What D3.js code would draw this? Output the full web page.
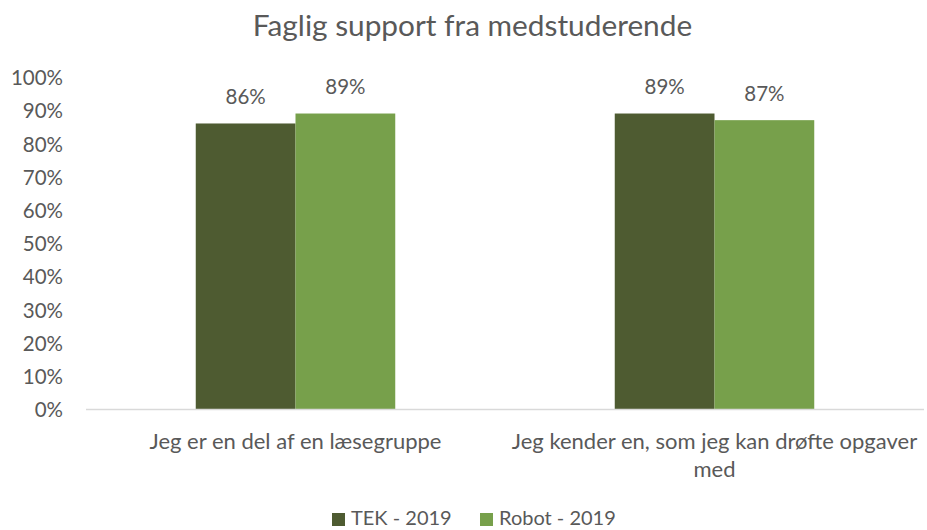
<!DOCTYPE html>
<html>
<head>
<meta charset="utf-8">
<script src="https://cdn.jsdelivr.net/npm/d3@7"></script>
<style>
  body { margin: 0; background: #fff; }
  text { font-family: Lato, "Open Sans", sans-serif; fill: #595959; }
</style>
</head>
<body>
<svg id="chart" width="927" height="530"></svg>
<script>
var categories = ["Jeg er en del af en læsegruppe", "Jeg kender en, som jeg kan drøfte opgaver med"];
var seriesNames = ["TEK - 2019", "Robot - 2019"];
var tek = [0.86, 0.89];
var robot = [0.89, 0.87];
var yTicks = [0, 0.1, 0.2, 0.3, 0.4, 0.5, 0.6, 0.7, 0.8, 0.9, 1.0];
var colors = ["#4e5b31", "#77a04b"];

var width = 927, height = 530;
var margin = {top: 77, right: 3, bottom: 121, left: 86};

function draw()
{
    var svg = d3.select("#chart"),
        series = [tek, robot];

    var x = d3.scaleBand().domain(categories)
        .range([margin.left, width - margin.right]),
        x1 = d3.scaleBand().domain(seriesNames)
        .range([0, 199.5]),
        y = d3.scaleLinear().domain([0, 1])
        .range([height - margin.bottom, margin.top]);

    // title
    svg.append("text")
      .attr("x", 472.5).attr("y", 36)
      .attr("text-anchor", "middle")
      .style("font-size", "29.8px")
      .text("Faglig support fra medstuderende");

    // y axis labels
    var yAxis = d3.axisLeft(y).tickValues(yTicks)
      .tickFormat(d3.format(".0%")).tickSize(0).tickPadding(0);
    var ga = svg.append("g")
      .attr("transform", "translate(63,0)")
      .call(yAxis);
    ga.select(".domain").remove();
    ga.selectAll("text")
      .attr("dy", "0.38em")
      .style("font-size", "20.5px")
      .style("font-family", "Lato, sans-serif")
      .attr("fill", "#595959");

    // bars
    categories.forEach(function(c, i) {
      var gx = x(c) + (x.bandwidth() - x1.range()[1]) / 2;
      series.forEach(function(s, j) {
        svg.append("rect")
          .attr("x", gx + x1(seriesNames[j]))
          .attr("y", y(s[i]))
          .attr("width", x1.bandwidth())
          .attr("height", y(0) - y(s[i]))
          .attr("fill", colors[j]);
        svg.append("text")
          .attr("x", gx + x1(seriesNames[j]) + x1.bandwidth() / 2)
          .attr("y", y(s[i]) - 19.5)
          .attr("text-anchor", "middle")
          .style("font-size", "20.5px")
          .text(d3.format(".0%")(s[i]));
      });
    });

    // baseline
    svg.append("line")
      .attr("x1", margin.left).attr("x2", width - margin.right)
      .attr("y1", y(0) + 0.5).attr("y2", y(0) + 0.5)
      .attr("stroke", "#d9d9d9").attr("stroke-width", 1.3);

    // category labels
    var lines = [["Jeg er en del af en læsegruppe"], ["Jeg kender en, som jeg kan drøfte opgaver", "med"]];
    categories.forEach(function(c, i) {
      var t = svg.append("text")
        .attr("text-anchor", "middle")
        .style("font-size", "22px");
      lines[i].forEach(function(l, k) {
        t.append("tspan")
          .attr("x", x(c) + x.bandwidth() / 2)
          .attr("y", 449 + k * 28)
          .text(l);
      });
    });

    // legend
    var lx = [332, 480];
    seriesNames.forEach(function(n, j) {
      svg.append("rect")
        .attr("x", lx[j]).attr("y", 513)
        .attr("width", 13).attr("height", 13)
        .attr("fill", colors[j]);
      svg.append("text")
        .attr("x", lx[j] + 19).attr("y", 525)
        .style("font-size", "20px")
        .text(n);
    });
}

draw();
</script>
</body>
</html>
